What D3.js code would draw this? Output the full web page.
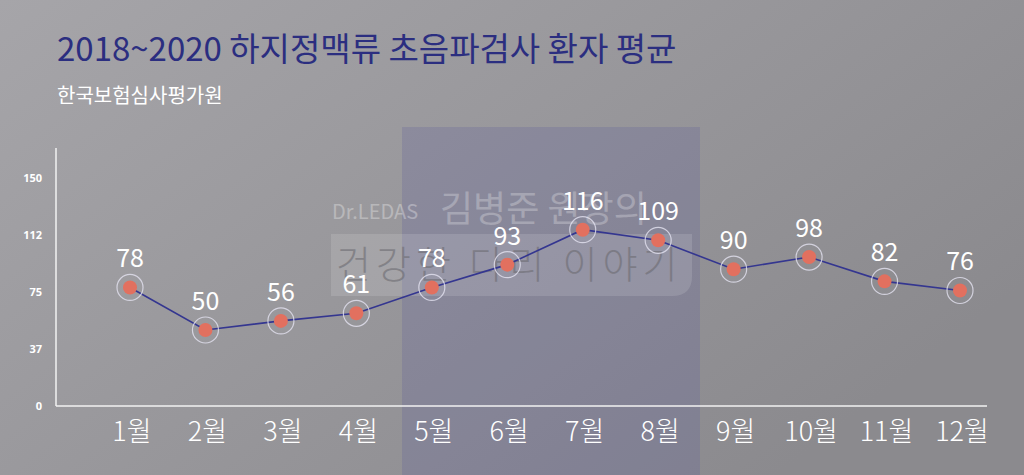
<!DOCTYPE html>
<html><head><meta charset="utf-8">
<script src="https://cdn.jsdelivr.net/npm/d3@7"></script>
<style>html,body{margin:0;padding:0;background:#9a999d;}svg{display:block;}</style>
</head><body>
<script>
const months = ["1월","2월","3월","4월","5월","6월","7월","8월","9월","10월","11월","12월"];
const values = [78,50,56,61,78,93,116,109,90,98,82,76];
const yTicks = [0,37.5,75,112.5,150];
const yTickLabels = ["0","37","75","112","150"];
const title = "2018~2020 하지정맥류 초음파검사 환자 평균";
const subtitle = "한국보험심사평가원";

const W=1024,H=475;
const svg=d3.select("body").append("svg").attr("width",W).attr("height",H);
const defs=svg.append("defs");
const g=defs.append("linearGradient").attr("id","bg").attr("x1","0").attr("y1","0").attr("x2","1").attr("y2","0.6");
g.append("stop").attr("offset","0").attr("stop-color","#a6a5a9");
g.append("stop").attr("offset","1").attr("stop-color","#8b8a8e");
svg.append("rect").attr("width",W).attr("height",H).attr("fill","url(#bg)");

// decorative band + watermark
svg.append("rect").attr("x",402).attr("y",127).attr("width",298).attr("height",H-127).attr("fill","#58589a").attr("opacity",0.22);
svg.append("path").attr("d","M331,234 H692 V276 Q692,296 672,296 H331 Z").attr("fill","#ffffff").attr("opacity",0.13);
svg.append("text").attr("x",332).attr("y",219).text("Dr.LEDAS").attr("font-family","Noto Sans CJK KR, Noto Sans").attr("font-size",20).attr("fill","#ffffff").attr("opacity",0.3);
svg.append("text").attr("x",440).attr("y",222).text("김병준 원장의").attr("font-family","Noto Sans CJK KR").attr("font-size",36).attr("fill","#ffffff").attr("opacity",0.25);
svg.append("text").attr("x",336).attr("y",278).text("건강한 다리 이야기").attr("font-family","Noto Sans CJK KR").attr("font-weight",300).attr("font-size",38).attr("letter-spacing",5).attr("fill","#6d6c72").attr("opacity",0.6);

const x=d3.scalePoint().domain(months).range([130,960]);
const y=d3.scaleLinear().domain([0,150]).range([406,178]);

// title
svg.append("text").attr("x",57).attr("y",61).text(title).attr("font-family","Noto Sans CJK KR").attr("font-weight",400).attr("font-size",33).attr("fill","#2b2e80");
svg.append("text").attr("x",57).attr("y",103).text(subtitle).attr("font-family","Noto Sans CJK KR").attr("font-size",20).attr("fill","#ffffff");

// axes
svg.append("line").attr("x1",56).attr("x2",56).attr("y1",148).attr("y2",406).attr("stroke","#f2f2f2").attr("stroke-width",1.5);
svg.append("line").attr("x1",56).attr("x2",987).attr("y1",406).attr("y2",406).attr("stroke","#f2f2f2").attr("stroke-width",1.5);
svg.append("g").selectAll("text").data(yTicks).join("text")
  .attr("x",42).attr("y",d=>y(d)).attr("dy","0.35em").attr("text-anchor","end")
  .text((d,i)=>yTickLabels[i]).attr("font-family","Open Sans").attr("font-weight",700).attr("font-size",11).attr("fill","#ffffff");
svg.append("g").selectAll("text").data(months).join("text")
  .attr("x",d=>x(d)+2).attr("y",441).attr("text-anchor","middle").text(d=>d)
  .attr("font-family","Noto Sans CJK KR").attr("font-weight",300).attr("font-size",27).attr("fill","#ffffff");

// line
const line=d3.line().x((d,i)=>x(months[i])).y(d=>y(d));
svg.append("path").datum(values).attr("d",line).attr("fill","none").attr("stroke","#343690").attr("stroke-width",1.6);

const pts=svg.append("g").selectAll("g").data(values).join("g").attr("transform",(d,i)=>`translate(${x(months[i])},${y(d)})`);
pts.append("circle").attr("r",13).attr("fill","none").attr("stroke","#e4e2f0").attr("stroke-width",1.2).attr("opacity",0.8);
pts.append("circle").attr("r",7).attr("fill","#e2705f");
pts.append("text").attr("y",-20).attr("text-anchor","middle").text(d=>d)
  .attr("font-family","Noto Sans CJK KR").attr("font-size",25).attr("fill","#ffffff");
</script>
</body></html>
